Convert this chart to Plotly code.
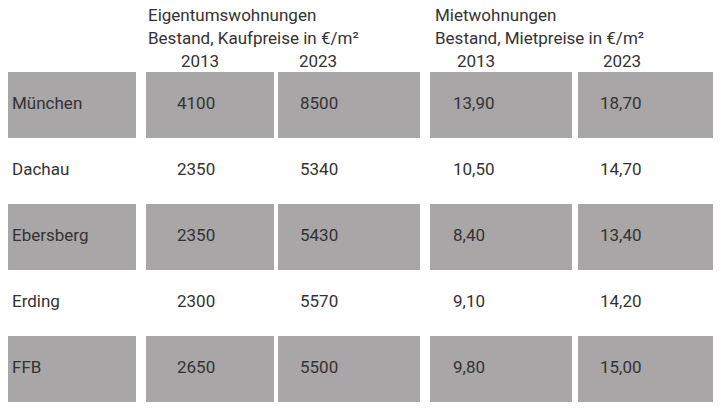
import plotly.graph_objects as go

towns = ["München", "Dachau", "Ebersberg", "Erding", "FFB"]
kauf_2013 = ["4100", "2350", "2350", "2300", "2650"]
kauf_2023 = ["8500", "5340", "5430", "5570", "5500"]
miete_2013 = ["13,90", "10,50", "8,40", "9,10", "9,80"]
miete_2023 = ["18,70", "14,70", "13,40", "14,20", "15,00"]
years = ["2013", "2023", "2013", "2023"]

grey = "#a8a6a7"
txt = "#333333"
font = dict(family="Roboto, DejaVu Sans", size=17, color=txt)

# pixel layout: column spans and row centres
cols = [(0, 136), (146, 274), (278, 420), (430, 572), (578, 730)]
text_x = [12, 177, 300, 453, 600]
row_y = [105 + 66 * i for i in range(len(towns))]

fig = go.Figure()

grey_rows = [y for i, y in enumerate(row_y) if i % 2 == 0]
for x0, x1 in cols:
    fig.add_trace(go.Bar(
        orientation="h", y=grey_rows, x=[x1 - x0] * len(grey_rows), base=x0,
        width=66, marker=dict(color=grey, line_width=0), hoverinfo="skip"))

columns = [towns, kauf_2013, kauf_2023, miete_2013, miete_2023]
for tx, vals in zip(text_x, columns):
    fig.add_trace(go.Scatter(
        x=[tx] * len(vals), y=row_y, text=vals, mode="text",
        textposition="middle right", textfont=font, hoverinfo="skip"))

fig.add_trace(go.Scatter(
    x=[200, 318, 476, 622], y=[63] * 4, text=years, mode="text",
    textposition="middle center", textfont=font, hoverinfo="skip"))
fig.add_trace(go.Scatter(
    x=[148, 148, 435, 435], y=[17, 40, 17, 40],
    text=["Eigentumswohnungen", "Bestand, Kaufpreise in €/m²",
          "Mietwohnungen", "Bestand, Mietpreise in €/m²"],
    mode="text", textposition="middle right", textfont=font, hoverinfo="skip"))

# the page body adds an 8px offset, so shift the ranges to compensate
fig.update_layout(
    width=721, height=408, margin=dict(l=0, r=0, t=0, b=0),
    plot_bgcolor="white", paper_bgcolor="white", showlegend=False, barmode="overlay",
    xaxis=dict(range=[8, 729], visible=False, fixedrange=True),
    yaxis=dict(range=[416, 8], visible=False, fixedrange=True),
)

fig.write_html("out.html")
